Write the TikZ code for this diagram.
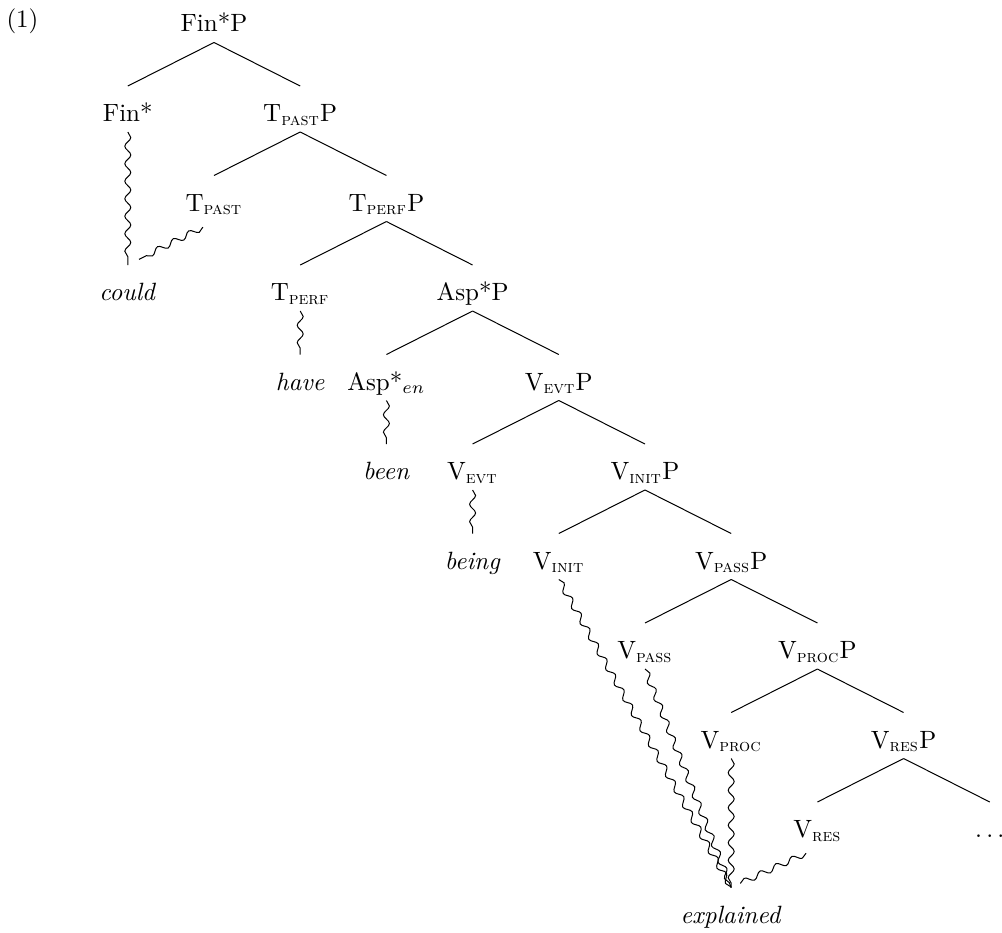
\documentclass[tikz,border=0pt]{standalone}
\usepackage{amsmath}
\usepackage{tikz}
\usetikzlibrary{positioning}
\usetikzlibrary{calc}
\usetikzlibrary{decorations.pathmorphing}

\begin{document}
\begin{tikzpicture}
		[x=0.4pt, y=-0.4pt,
		tn/.style={inner sep=0pt, text height=14pt, text depth=4pt},
		wavy/.style={decorate, decoration={snake, amplitude=1.2pt, segment length=7pt}},
		node distance=35.8pt and 34.48pt, on grid]
		\useasboundingbox (0,0) rectangle (1002,933);
		\node[tn] (exnum) at (22.5,15.5) {(1)};
		\node[tn] (finp) at (214,19.5) {Fin*P};
		\node[tn, below left=of finp] (fin) {Fin*};
		\node[tn, below right=of finp] (tpastp) {T$_{\textsc{past}}$P};
		\node[tn, below left=of tpastp] (tpast) {T$_{\textsc{past}}$};
		\node[tn, below right=of tpastp] (tperfp) {T$_{\textsc{perf}}$P};
		\node[tn, below left=of tperfp] (tperf) {T$_{\textsc{perf}}$};
		\node[tn, below right=of tperfp] (aspp) {Asp*P};
		\node[tn, below left=of aspp] (aspen) {Asp*$_{en}$};
		\node[tn, below right=of aspp] (vevtp) {V$_{\textsc{evt}}$P};
		\node[tn, below left=of vevtp] (vevt) {V$_{\textsc{evt}}$};
		\node[tn, below right=of vevtp] (vinitp) {V$_{\textsc{init}}$P};
		\node[tn, below left=of vinitp] (vinit) {V$_{\textsc{init}}$};
		\node[tn, below right=of vinitp] (vpassp) {V$_{\textsc{pass}}$P};
		\node[tn, below left=of vpassp] (vpass) {V$_{\textsc{pass}}$};
		\node[tn, below right=of vpassp] (vprocp) {V$_{\textsc{proc}}$P};
		\node[tn, below left=of vprocp] (vproc) {V$_{\textsc{proc}}$};
		\node[tn, below right=of vprocp] (vresp) {V$_{\textsc{res}}$P};
		\node[tn, below left=of vresp] (vres) {V$_{\textsc{res}}$};
		\node[tn, below right=of vresp] (rest) {$\ldots$};

		% spelled-out heads
		\node[tn, below=71.6pt of fin] (could) {\textit{could}};
		\node[tn, below=of tperf] (have) {\textit{have}};
		\node[tn, below=of aspen] (been) {\textit{been}};
		\node[tn, below=of vevt] (being) {\textit{being}};
		\node[tn, below=70pt of vproc] (explained) {\textit{explained}};

		\draw (finp.south) -- (fin.north);
		\draw (finp.south) -- (tpastp.north);
		\draw (tpastp.south) -- (tpast.north);
		\draw (tpastp.south) -- (tperfp.north);
		\draw (tperfp.south) -- (tperf.north);
		\draw (tperfp.south) -- (aspp.north);
		\draw (aspp.south) -- (aspen.north);
		\draw (aspp.south) -- (vevtp.north);
		\draw (vevtp.south) -- (vevt.north);
		\draw (vevtp.south) -- (vinitp.north);
		\draw (vinitp.south) -- (vinit.north);
		\draw (vinitp.south) -- (vpassp.north);
		\draw (vpassp.south) -- (vpass.north);
		\draw (vpassp.south) -- (vprocp.north);
		\draw (vprocp.south) -- (vproc.north);
		\draw (vprocp.south) -- (vresp.north);
		\draw (vresp.south) -- (vres.north);
		\draw (vresp.south) -- (rest.north);

		\draw[wavy] (fin.south) -- (could.north);
		\draw[wavy] ($(tpast.south)!5pt!(could.north)$) -- ($(could.north)!5pt!(tpast.south)$);
		\draw[wavy] (tperf.south) -- (have.north);
		\draw[wavy] (aspen.south) -- (been.north);
		\draw[wavy] (vevt.south) -- (being.north);
		\draw[wavy] (vinit.south) -- (explained.north);
		\draw[wavy] (vpass.south) -- (explained.north);
		\draw[wavy] (vproc.south) -- (explained.north);
		\draw[wavy] ($(vres.south)!5pt!(explained.north)$) -- ($(explained.north)!4pt!(vres.south)$);
	\end{tikzpicture}
\end{document}
